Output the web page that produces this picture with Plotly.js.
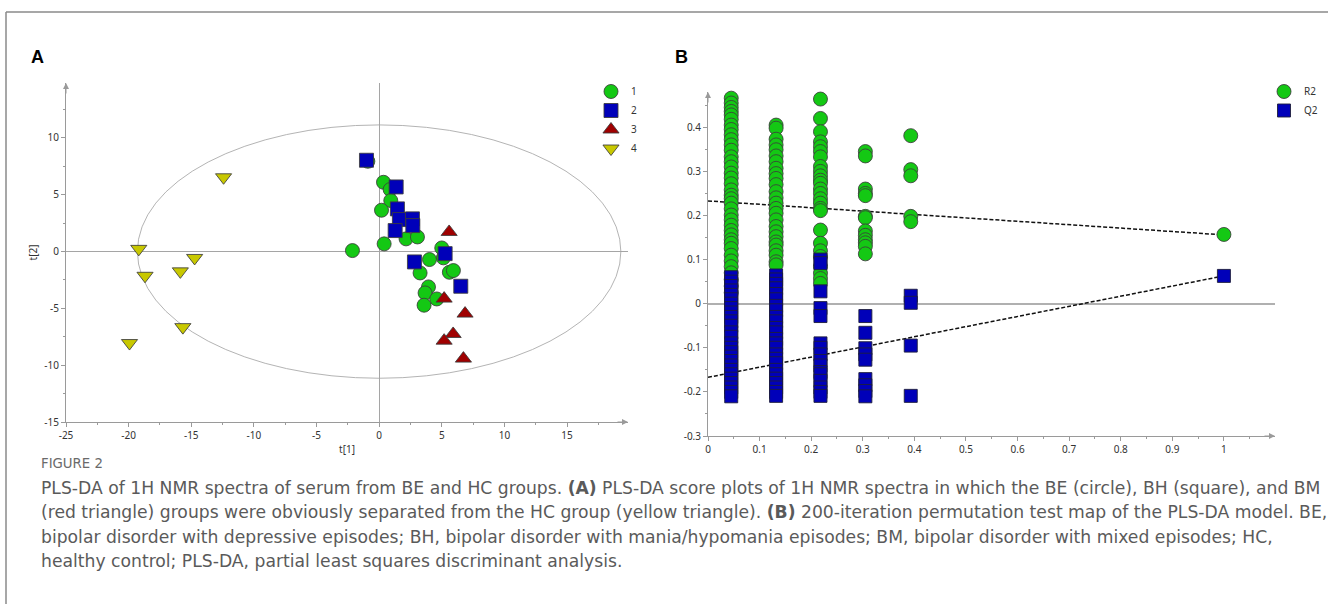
<!DOCTYPE html>
<html>
<head>
<meta charset="utf-8">
<script src="https://cdn.plot.ly/plotly-3.0.1.min.js"></script>
<style>
  html, body { margin: 0; padding: 0; background: #fff; }
  #chart { width: 1328px; height: 604px; }
</style>
</head>
<body>
<div id="chart"></div>
<script>
// ---------- Panel A: PLS-DA score plot (t[1], t[2]) ----------
const group1X = [-0.90, 0.35, 0.88, 0.93, 0.19, 2.15, 3.06, 0.40, -2.13, 5.00, 5.13, 4.02, 3.27, 5.61, 5.93, 3.94, 3.67, 4.60, 3.59];
const group1Y = [7.95, 6.10, 5.46, 4.49, 3.64, 1.12, 1.29, 0.68, 0.09, 0.32, -0.55, -0.70, -1.88, -1.82, -1.67, -3.11, -3.64, -4.17, -4.72];
const group2X = [-1.01, 1.36, 1.46, 1.62, 2.66, 2.69, 1.28, 5.27, 2.82, 6.52];
const group2Y = [8.04, 5.69, 3.76, 2.82, 2.88, 2.29, 1.85, -0.18, -0.91, -3.05];
const group3X = [5.59, 5.19, 6.86, 5.91, 5.19, 6.73];
const group3Y = [1.73, -4.14, -5.46, -7.25, -7.84, -9.42];
const group4X = [-12.42, -19.19, -14.73, -18.69, -15.87, -15.67, -19.93];
const group4Y = [6.54, 0.24, -0.56, -2.13, -1.74, -6.65, -8.05];
const groupNames = ['1', '2', '3', '4'];
const ellipseHalfX = 19.3;   // Hotelling T2 ellipse semi-axes
const ellipseHalfY = 11.15;

const xTicksA = [-25, -20, -15, -10, -5, 0, 5, 10, 15];
const xTickTextA = ['-25', '-20', '-15', '-10', '-5', '0', '5', '10', '15'];
const yTicksA = [-15, -10, -5, 0, 5, 10];
const yTickTextA = ['-15', '-10', '-5', '0', '5', '10'];

// ---------- Panel B: 200-iteration permutation test ----------
const permX = [0.045, 0.132, 0.218, 0.305, 0.393];
const r2Col1 = [0.466, 0.455, 0.445, 0.436, 0.428, 0.418, 0.405, 0.395, 0.383, 0.372, 0.36, 0.348, 0.333, 0.322, 0.31, 0.296, 0.285, 0.272, 0.258, 0.246, 0.238, 0.228, 0.215, 0.201, 0.19, 0.178, 0.166, 0.156, 0.145, 0.137, 0.125, 0.11, 0.097, 0.084, 0.07, 0.055, 0.04, 0.025];
const r2Col2 = [0.405, 0.398, 0.373, 0.36, 0.349, 0.335, 0.322, 0.307, 0.295, 0.284, 0.27, 0.254, 0.24, 0.228, 0.216, 0.205, 0.19, 0.175, 0.163, 0.152, 0.14, 0.133, 0.12, 0.11, 0.095, 0.088];
const r2Col3 = [0.464, 0.42, 0.39, 0.367, 0.356, 0.345, 0.333, 0.311, 0.3, 0.29, 0.28, 0.273, 0.26, 0.25, 0.238, 0.228, 0.216, 0.211, 0.167, 0.137, 0.12, 0.107, 0.084, 0.069, 0.057, 0.046];
const r2Col4 = [0.345, 0.335, 0.26, 0.25, 0.245, 0.198, 0.195, 0.165, 0.155, 0.145, 0.138, 0.13, 0.113];
const r2Col5 = [0.381, 0.304, 0.29, 0.198, 0.186];
const q2Col1 = [0.06, 0.05, 0.04, 0.03, 0.02, 0.01, 0.0, -0.01, -0.02, -0.03, -0.04, -0.05, -0.065, -0.075, -0.09, -0.1, -0.11, -0.12, -0.13, -0.14, -0.15, -0.16, -0.17, -0.18, -0.19, -0.2, -0.21];
const q2Col2 = [0.064, 0.055, 0.045, 0.035, 0.022, 0.01, -0.005, -0.015, -0.03, -0.04, -0.055, -0.065, -0.08, -0.09, -0.1, -0.115, -0.125, -0.135, -0.15, -0.16, -0.17, -0.18, -0.19, -0.2, -0.209];
const q2Col3 = [0.1, 0.092, 0.028, -0.01, -0.028, -0.09, -0.1, -0.115, -0.13, -0.14, -0.155, -0.16, -0.175, -0.19, -0.2, -0.209];
const q2Col4 = [-0.028, -0.066, -0.101, -0.115, -0.127, -0.171, -0.185, -0.198, -0.21];
const q2Col5 = [0.018, 0.002, -0.095, -0.209];
const modelX = 1.0;
const modelR2 = 0.157;
const modelQ2 = 0.063;
const r2LineX = [0, 1];
const r2LineY = [0.233, 0.156];
const q2LineX = [0, 1];
const q2LineY = [-0.167, 0.063];
const seriesNamesB = ['R2', 'Q2'];

const xTicksB = [0, 0.1, 0.2, 0.3, 0.4, 0.5, 0.6, 0.7, 0.8, 0.9, 1];
const xTickTextB = ['0', '0.1', '0.2', '0.3', '0.4', '0.5', '0.6', '0.7', '0.8', '0.9', '1'];
const yTicksB = [-0.3, -0.2, -0.1, 0, 0.1, 0.2, 0.3, 0.4];
const yTickTextB = ['-0.3', '-0.2', '-0.1', '0', '0.1', '0.2', '0.3', '0.4'];

// ---------- Caption ----------
const figureLabel = 'FIGURE 2';
const captionLines = [
  'PLS-DA of 1H NMR spectra of serum from BE and HC groups. <b>(A)</b> PLS-DA score plots of 1H NMR spectra in which the BE (circle), BH (square), and BM',
  '(red triangle) groups were obviously separated from the HC group (yellow triangle). <b>(B)</b> 200-iteration permutation test map of the PLS-DA model. BE,',
  'bipolar disorder with depressive episodes; BH, bipolar disorder with mania/hypomania episodes; BM, bipolar disorder with mixed episodes; HC,',
  'healthy control; PLS-DA, partial least squares discriminant analysis.'
];

// ---------- build ----------
const W = 1328, H = 604;
const px = v => v / W;
const py = v => (H - v) / H;

const GREEN = 'rgb(20,200,20)';
const BLUE = 'rgb(0,0,185)';
const RED = 'rgb(160,0,0)';
const YELLOW = 'rgb(200,200,0)';
const OUT = 'rgba(60,60,60,0.85)';
const tickFont = { family: 'Noto Sans, DejaVu Sans, sans-serif', size: 10, color: '#333' };
const captionFont = { family: 'DejaVu Sans, Open Sans, sans-serif', size: 17.2, color: '#5a5a5a' };

function repeatX(x, arr) { return arr.map(() => x); }

const traces = [
  { type: 'scatter', mode: 'markers', x: group1X, y: group1Y, name: groupNames[0], xaxis: 'x', yaxis: 'y', legend: 'legend',
    marker: { symbol: 'circle', size: 14, color: GREEN, line: { color: OUT, width: 1 } } },
  { type: 'scatter', mode: 'markers', x: group2X, y: group2Y, name: groupNames[1], xaxis: 'x', yaxis: 'y', legend: 'legend',
    marker: { symbol: 'square', size: 14, color: BLUE, line: { color: OUT, width: 1 } } },
  { type: 'scatter', mode: 'markers', x: group3X, y: group3Y, name: groupNames[2], xaxis: 'x', yaxis: 'y', legend: 'legend',
    marker: { symbol: 'triangle-up', size: 14, color: RED, line: { color: OUT, width: 1 } } },
  { type: 'scatter', mode: 'markers', x: group4X, y: group4Y, name: groupNames[3], xaxis: 'x', yaxis: 'y', legend: 'legend',
    marker: { symbol: 'triangle-down', size: 14, color: YELLOW, line: { color: OUT, width: 1 } } },

  { type: 'scatter', mode: 'lines', x: r2LineX, y: r2LineY, xaxis: 'x2', yaxis: 'y2', showlegend: false, cliponaxis: false,
    line: { color: '#111', width: 1.5, dash: '4px,2px' } },
  { type: 'scatter', mode: 'lines', x: q2LineX, y: q2LineY, xaxis: 'x2', yaxis: 'y2', showlegend: false, cliponaxis: false,
    line: { color: '#111', width: 1.5, dash: '4px,2px' } },
  { type: 'scatter', mode: 'markers', name: seriesNamesB[0], xaxis: 'x2', yaxis: 'y2', legend: 'legend2', cliponaxis: false,
    x: [].concat(repeatX(permX[0], r2Col1), repeatX(permX[1], r2Col2), repeatX(permX[2], r2Col3), repeatX(permX[3], r2Col4), repeatX(permX[4], r2Col5), [modelX]),
    y: [].concat(r2Col1, r2Col2, r2Col3, r2Col4, r2Col5, [modelR2]),
    marker: { symbol: 'circle', size: 14, color: GREEN, line: { color: OUT, width: 1 } } },
  { type: 'scatter', mode: 'markers', name: seriesNamesB[1], xaxis: 'x2', yaxis: 'y2', legend: 'legend2', cliponaxis: false,
    x: [].concat(repeatX(permX[0], q2Col1), repeatX(permX[1], q2Col2), repeatX(permX[2], q2Col3), repeatX(permX[3], q2Col4), repeatX(permX[4], q2Col5), [modelX]),
    y: [].concat(q2Col1, q2Col2, q2Col3, q2Col4, q2Col5, [modelQ2]),
    marker: { symbol: 'square', size: 13, color: BLUE, line: { color: 'rgba(30,30,60,0.9)', width: 1 } } }
];

function axisBase() {
  return {
    showline: true, linecolor: '#9a9a9a', linewidth: 1,
    ticks: 'outside', ticklen: 4, tickcolor: '#9a9a9a', tickwidth: 1,
    showgrid: false, tickfont: tickFont, fixedrange: true
  };
}

const layout = {
  width: W, height: H,
  margin: { l: 0, r: 0, t: 0, b: 0 },
  paper_bgcolor: '#fff', plot_bgcolor: 'rgba(0,0,0,0)',
  showlegend: true,
  xaxis: Object.assign(axisBase(), {
    domain: [px(66), px(628)], range: [-25, 19.87], anchor: 'y',
    tickmode: 'array', tickvals: xTicksA, ticktext: xTickTextA,
    minor: { tickmode: 'linear', tick0: 0, dtick: 2.5, ticks: 'outside', ticklen: 2, tickcolor: '#9a9a9a', showgrid: false },
    zeroline: true, zerolinecolor: '#a5a5a5', zerolinewidth: 1,
    title: { text: 't[1]', font: tickFont, standoff: 4 }
  }),
  yaxis: Object.assign(axisBase(), {
    domain: [py(422), py(83)], range: [-15, 14.84], anchor: 'x',
    tickmode: 'array', tickvals: yTicksA, ticktext: yTickTextA,
    minor: { tickmode: 'linear', tick0: 0, dtick: 2.5, ticks: 'outside', ticklen: 2, tickcolor: '#9a9a9a', showgrid: false },
    zeroline: true, zerolinecolor: '#a5a5a5', zerolinewidth: 1,
    title: { text: 't[2]', font: tickFont, standoff: 4 }
  }),
  xaxis2: Object.assign(axisBase(), {
    domain: [px(708), px(1275)], range: [0, 1.099], anchor: 'y2',
    tickmode: 'array', tickvals: xTicksB, ticktext: xTickTextB,
    minor: { tickmode: 'linear', tick0: 0, dtick: 0.05, ticks: 'outside', ticklen: 2, tickcolor: '#9a9a9a', showgrid: false },
    zeroline: false
  }),
  yaxis2: Object.assign(axisBase(), {
    domain: [py(436), py(92)], range: [-0.3, 0.48], anchor: 'x2',
    tickmode: 'array', tickvals: yTicksB, ticktext: yTickTextB,
    minor: { tickmode: 'linear', tick0: 0, dtick: 0.05, ticks: 'outside', ticklen: 2, tickcolor: '#9a9a9a', showgrid: false },
    zeroline: true, zerolinecolor: '#b0b0b0', zerolinewidth: 2
  }),
  legend: {
    x: px(591), y: py(77), xanchor: 'left', yanchor: 'top',
    font: { family: 'Noto Sans, DejaVu Sans, sans-serif', size: 10, color: '#333' },
    bgcolor: 'rgba(0,0,0,0)', borderwidth: 0, tracegroupgap: 0
  },
  legend2: {
    x: px(1264), y: py(77), xanchor: 'left', yanchor: 'top',
    font: { family: 'Noto Sans, DejaVu Sans, sans-serif', size: 10, color: '#333' },
    bgcolor: 'rgba(0,0,0,0)', borderwidth: 0, tracegroupgap: 0
  },
  shapes: [
    { type: 'circle', xref: 'x', yref: 'y', x0: -ellipseHalfX, x1: ellipseHalfX, y0: -ellipseHalfY, y1: ellipseHalfY,
      line: { color: '#b4b4b4', width: 1 }, layer: 'below' },
    { type: 'line', xref: 'paper', yref: 'paper', x0: px(6), x1: 1.02, y0: py(12), y1: py(12), line: { color: '#8a8a8a', width: 1.5 } },
    { type: 'line', xref: 'paper', yref: 'paper', x0: px(6), x1: px(6), y0: py(12), y1: -0.02, line: { color: '#8a8a8a', width: 1.5 } }
  ],
  annotations: [
    // axis arrows
    { xref: 'x', yref: 'y', x: 19.87, y: -15, ax: -12, ay: 0, text: '', showarrow: true, arrowhead: 2, arrowsize: 1.2, arrowwidth: 1, arrowcolor: '#9a9a9a' },
    { xref: 'x', yref: 'y', x: -25, y: 14.84, ax: 0, ay: 12, text: '', showarrow: true, arrowhead: 2, arrowsize: 1.2, arrowwidth: 1, arrowcolor: '#9a9a9a' },
    { xref: 'x2', yref: 'y2', x: 1.099, y: -0.3, ax: -12, ay: 0, text: '', showarrow: true, arrowhead: 2, arrowsize: 1.2, arrowwidth: 1, arrowcolor: '#9a9a9a' },
    { xref: 'x2', yref: 'y2', x: 0, y: 0.48, ax: 0, ay: 12, text: '', showarrow: true, arrowhead: 2, arrowsize: 1.2, arrowwidth: 1, arrowcolor: '#9a9a9a' },
    // panel letters
    { xref: 'paper', yref: 'paper', x: px(37), y: py(57), xanchor: 'center', yanchor: 'middle', showarrow: false,
      text: '<b>A</b>', font: { family: 'Liberation Sans, Arial, sans-serif', size: 18, color: '#000' } },
    { xref: 'paper', yref: 'paper', x: px(681), y: py(57), xanchor: 'center', yanchor: 'middle', showarrow: false,
      text: '<b>B</b>', font: { family: 'Liberation Sans, Arial, sans-serif', size: 18, color: '#000' } },
    // caption
    { xref: 'paper', yref: 'paper', x: px(39), y: py(463), xanchor: 'left', yanchor: 'middle', showarrow: false,
      text: figureLabel, font: { family: 'DejaVu Sans, Open Sans, sans-serif', size: 13.3, color: '#6a6a6a' } }
  ]
};

const captionY = [488, 512, 537, 561];
captionLines.forEach((t, i) => {
  layout.annotations.push({
    xref: 'paper', yref: 'paper', x: px(39), y: py(captionY[i]), xanchor: 'left', yanchor: 'middle', showarrow: false,
    text: t, font: captionFont
  });
});

Plotly.newPlot('chart', traces, layout, { displayModeBar: false, staticPlot: true });
</script>
</body>
</html>
